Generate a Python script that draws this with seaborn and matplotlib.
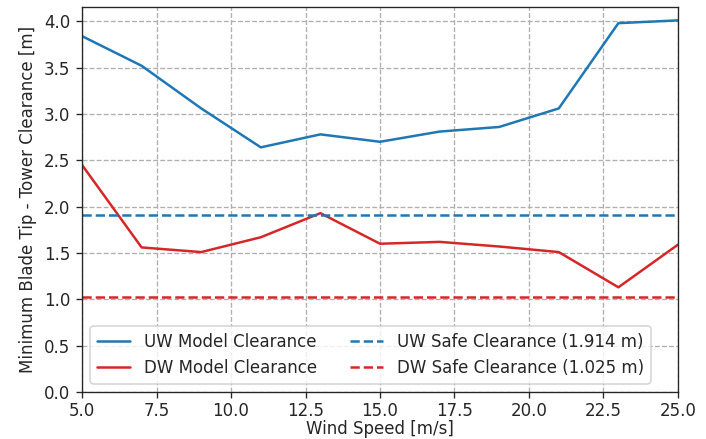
import matplotlib
matplotlib.use("Agg")
import matplotlib.pyplot as plt
import seaborn as sns
import pandas as pd

# data
wind_speed = [5, 7, 9, 11, 13, 15, 17, 19, 21, 23, 25]
uw_clearance = [3.84, 3.52, 3.06, 2.64, 2.78, 2.70, 2.81, 2.86, 3.06, 3.98, 4.01]
dw_clearance = [2.45, 1.56, 1.51, 1.67, 1.93, 1.60, 1.62, 1.57, 1.51, 1.13, 1.59]
uw_safe = 1.914
dw_safe = 1.025

sns.set_style("ticks")
plt.rcParams['font.family'] = ['DejaVu Sans']
plt.rcParams['xtick.major.size'] = 3.5
plt.rcParams['ytick.major.size'] = 3.5

df = pd.DataFrame({'ws': wind_speed, 'uw': uw_clearance, 'dw': dw_clearance})

# 120 dpi so fonts / lines come out a bit bigger, like the original
fig, ax = plt.subplots(figsize=(706 / 120, 439 / 120), dpi=120)
fig.subplots_adjust(left=0.1162, right=0.9603, bottom=0.107, top=0.984)

sns.lineplot(data=df, x='ws', y='uw', color='tab:blue', label='UW Model Clearance', ax=ax)
sns.lineplot(data=df, x='ws', y='dw', color='tab:red', label='DW Model Clearance', ax=ax)
ax.axhline(uw_safe, color='tab:blue', ls='--', label=f'UW Safe Clearance ({uw_safe:.3f} m)')
ax.axhline(dw_safe, color='tab:red', ls='--', label=f'DW Safe Clearance ({dw_safe:.3f} m)')

ax.set_xlim(5, 25)
ax.set_ylim(bottom=0)
ax.grid(True, ls='--', color='#b0b0b0')
ax.tick_params(axis='x', pad=2.5)
ax.set_xlabel('Wind Speed [m/s]', labelpad=0)
ax.set_ylabel('Minimum Blade Tip - Tower Clearance [m]')
ax.legend(ncol=2, loc='lower left')

plt.savefig('out.png', dpi=120)
